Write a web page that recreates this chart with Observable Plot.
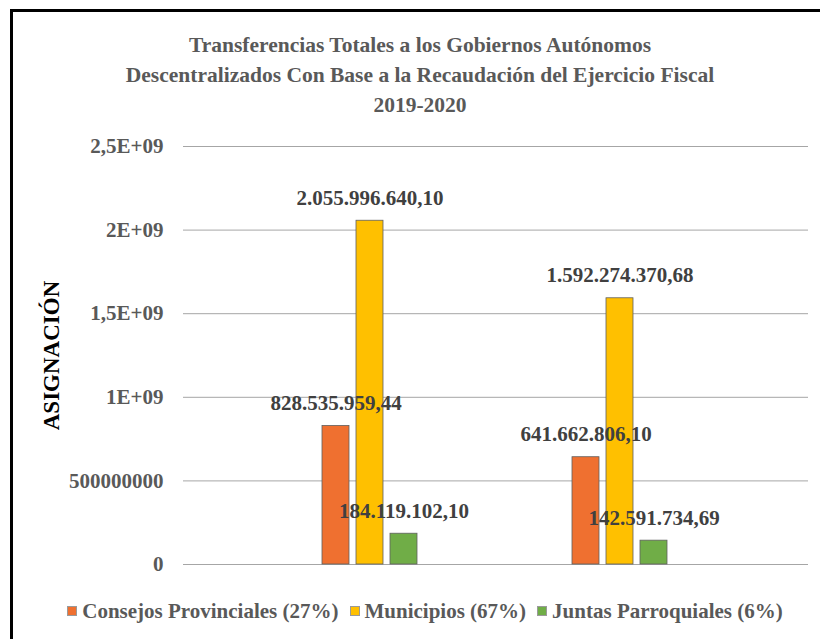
<!DOCTYPE html>
<html>
<head>
<meta charset="utf-8">
<script src="https://cdn.jsdelivr.net/npm/d3@7"></script>
<script src="https://cdn.jsdelivr.net/npm/@observablehq/plot@0.6"></script>
<style>
  html, body { margin: 0; padding: 0; background: #fff; }
  body { width: 820px; height: 639px; overflow: hidden; position: relative;
         font-family: "Liberation Serif", "Times New Roman", serif; }
  #frame { position: absolute; left: 10px; top: 9px; width: 830px; height: 650px;
           border-top: 3px solid #000; border-left: 3px solid #000; box-sizing: border-box; }
  #title { position: absolute; left: 0; top: 30px; width: 840px; text-align: center;
           font-size: 21.5px; font-weight: bold; line-height: 30px; color: #595959; }
  #chart { position: absolute; left: 0; top: 120px; width: 820px; height: 470px; }
  #chart svg { position: absolute; left: 0; top: 0; }
  #legend { position: absolute; left: 30px; top: 597px; width: 790px; display: flex;
            justify-content: center; align-items: center; font-size: 21px; font-weight: bold;
            color: #595959; line-height: 28px; white-space: nowrap; }
  #legend .item { display: flex; align-items: center; margin: 0 5.5px; }
  #legend .sw { width: 8px; height: 8px; border: 0.5px solid #9a9a9a; margin-right: 5px; }
  svg [aria-label="y-axis label"] text, svg [aria-label="y-axis label"] { font-size: 23px; fill: #000; }
</style>
</head>
<body>
<div id="frame"></div>
<div id="title">Transferencias Totales a los Gobiernos Autónomos<br>Descentralizados Con Base a la Recaudación del Ejercicio Fiscal<br>2019-2020</div>
<div id="chart"></div>
<div id="legend"></div>
<script>
// ---- data ----
const years = ["2019", "2020"];
const series = ["Consejos Provinciales (27%)", "Municipios (67%)", "Juntas Parroquiales (6%)"];
const consejos = [828535959.44, 641662806.10];
const municipios = [2055996640.10, 1592274370.68];
const juntas = [184119102.10, 142591734.69];
const tickValues = [0, 500000000, 1000000000, 1500000000, 2000000000, 2500000000];
const tickLabels = ["0", "500000000", "1E+09", "1,5E+09", "2E+09", "2,5E+09"];
const colors = ["#ef7030", "#ffc000", "#70ad47"];
const yTitle = "ASIGNACIÓN";

const seriesValues = [consejos, municipios, juntas];
const data = [];
years.forEach((yr, i) => series.forEach((s, j) => data.push({year: yr, series: s, value: seriesValues[j][i]})));

const fmt = d3.formatLocale({decimal: ",", thousands: ".", grouping: [3], currency: ["", ""]}).format(",.2f");

const common = {
  width: 820, height: 470,
  marginLeft: 183, marginRight: 12, marginTop: 26, marginBottom: 26,
  style: {fontFamily: "'Liberation Serif', 'Times New Roman', serif", fontSize: "21px",
          fontWeight: "bold", color: "#595959", background: "transparent", overflow: "visible"}
};

// base layer: gridlines + y axis
const base = Plot.plot({
  ...common,
  y: {domain: [0, 2500000000], ticks: tickValues, tickFormat: d => tickLabels[tickValues.indexOf(d)],
      tickSize: 0, tickPadding: 20, label: yTitle, labelAnchor: "center", labelOffset: 141, labelArrow: "none"},
  marks: [Plot.ruleY(tickValues, {stroke: "#a6a6a6", strokeWidth: 1})]
});

// bar layer
const bars = Plot.plot({
  ...common,
  facet: {data, x: "year", marginTop: 0, marginBottom: 0, marginLeft: 0, marginRight: 0},
  fx: {domain: years, paddingInner: 0.615, paddingOuter: 0.555, axis: null, label: null},
  x: {domain: series, paddingInner: 0.2, paddingOuter: 0, axis: null, label: null},
  y: {domain: [0, 2500000000], axis: null},
  color: {domain: series, range: colors},
  marks: [
    Plot.barY(data, {x: "series", y: "value", fill: "series", stroke: "#5f5f5f", strokeWidth: 0.8}),
    Plot.text(data, {x: "series", y: "value", text: d => fmt(d.value), lineAnchor: "bottom", dy: -16,
                     fontSize: 21, fontWeight: "bold", fill: "#404040"})
  ]
});

const chart = document.getElementById("chart");
chart.appendChild(base);
chart.appendChild(bars);

// legend
const legend = document.getElementById("legend");
series.forEach((s, i) => {
  const item = document.createElement("div");
  item.className = "item";
  const sw = document.createElement("span");
  sw.className = "sw";
  sw.style.background = colors[i];
  const t = document.createElement("span");
  t.textContent = s;
  item.appendChild(sw);
  item.appendChild(t);
  legend.appendChild(item);
});
</script>
</body>
</html>
